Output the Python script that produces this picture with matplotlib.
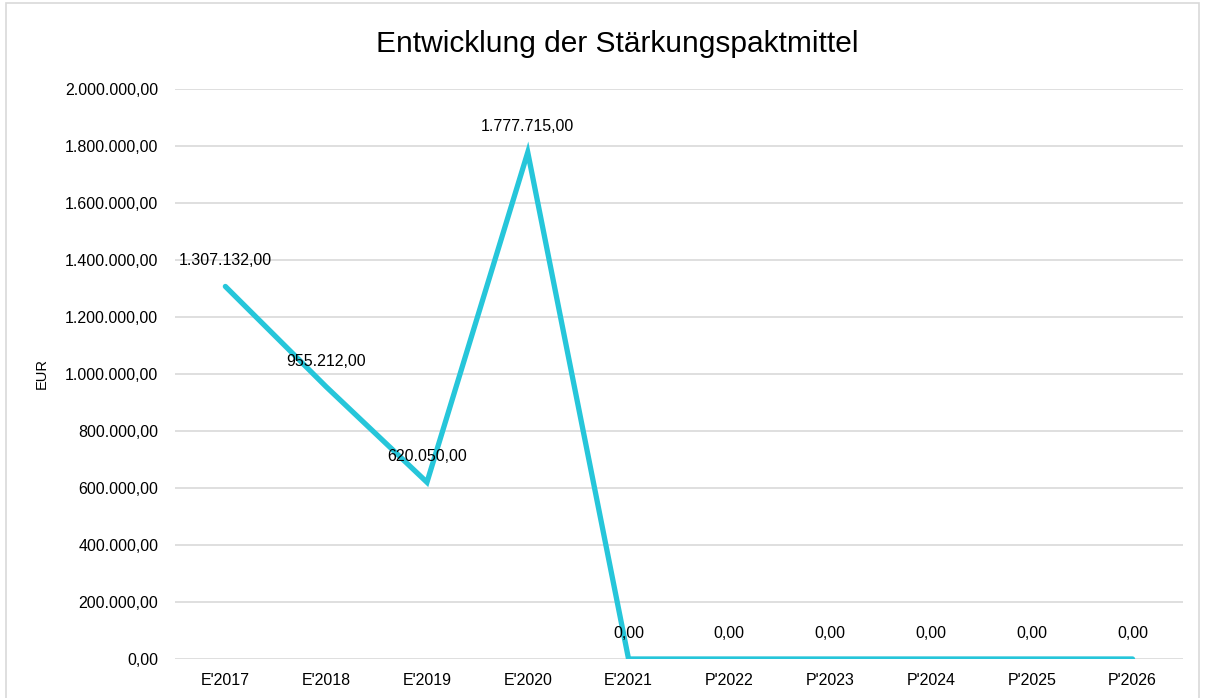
import matplotlib.pyplot as plt
from matplotlib.patches import Rectangle
from matplotlib.ticker import FuncFormatter

plt.rcParams["font.family"] = ["Liberation Sans", "DejaVu Sans"]

# data
categories = ["E'2017", "E'2018", "E'2019", "E'2020", "E'2021",
              "P'2022", "P'2023", "P'2024", "P'2025", "P'2026"]
values = [1307132.00, 955212.00, 620050.00, 1777715.00, 0.00,
          0.00, 0.00, 0.00, 0.00, 0.00]
y_ticks = [0, 200000, 400000, 600000, 800000, 1000000,
           1200000, 1400000, 1600000, 1800000, 2000000]


def de_format(v, pos=None):
    s = f"{v:,.2f}"
    return s.replace(",", "X").replace(".", ",").replace("X", ".")


fig = plt.figure(figsize=(12.05, 6.98), dpi=100)
ax = fig.add_axes([0.1452, 0.0559, 0.8365, 0.8166])

x = list(range(len(categories)))
ax.plot(x, values, color="#26C6DA", linewidth=3.8,
        solid_capstyle="round", solid_joinstyle="miter", zorder=3)

for xi, v in zip(x, values):
    ax.annotate(de_format(v), (xi, v), xytext=(0, 18.5), textcoords="offset points",
                ha="center", va="center", fontsize=11.5, color="#000000", zorder=4)

ax.set_xlim(-0.5, len(categories) - 0.5)
ax.set_ylim(0, 2000000)
ax.set_yticks(y_ticks)
ax.yaxis.set_major_formatter(FuncFormatter(de_format))
ax.set_xticks(x)
ax.set_xticklabels(categories)
ax.tick_params(axis="both", length=0, labelsize=11.5, colors="#000000")
ax.tick_params(axis="x", pad=10)
ax.tick_params(axis="y", pad=12)
ax.grid(axis="y", color="#D9D9D9", linewidth=1.2)
ax.set_axisbelow(True)
for sp in ax.spines.values():
    sp.set_visible(False)

ax.set_ylabel("EUR", fontsize=10.5, labelpad=12)
fig.text(0.5125, 0.937, "Entwicklung der Stärkungspaktmittel", ha="center",
         va="center", fontsize=21.5)

fig.patches.append(Rectangle((0.005, -0.01), 0.99, 1.005, transform=fig.transFigure,
                             fill=False, edgecolor="#D9D9D9", linewidth=1.2))

plt.savefig("out.png", dpi=100)
